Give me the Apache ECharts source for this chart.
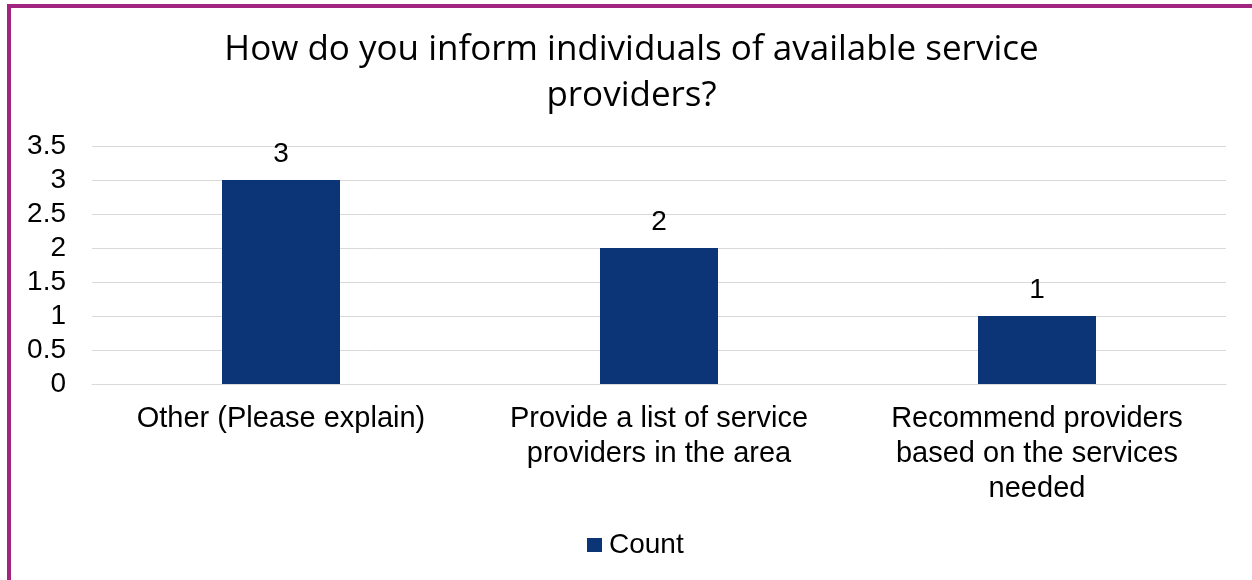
<!DOCTYPE html>
<html>
<head>
<meta charset="utf-8">
<script src="https://cdn.jsdelivr.net/npm/echarts@6/dist/echarts.min.js"></script>
<style>
  html, body { margin: 0; padding: 0; background: #ffffff; overflow: hidden; }
  body { width: 1252px; height: 580px; position: relative; }
  /* magenta frame around the chart (only its top and left edges fall inside the view) */
  #frame {
    position: absolute; left: 7px; top: 4px; width: 1400px; height: 800px;
    border-left: 4px solid #A2267F; border-top: 4px solid #A2267F;
    box-sizing: border-box;
  }
  #chart { position: absolute; left: 11px; top: 8px; width: 1241px; height: 572px; }
</style>
</head>
<body>
<div id="frame"></div>
<div id="chart"></div>
<script>
// Survey responses: how individuals are told about service providers
const categories = [
  'Other (Please explain)',
  'Provide a list of service\nproviders in the area',
  'Recommend providers\nbased on the services\nneeded'
];
const counts = [3, 2, 1];
const seriesName = 'Count';
const titleText = 'How do you inform individuals of available service\nproviders?';

const axisFont = 'Liberation Sans, Arial, sans-serif';

const chart = echarts.init(document.getElementById('chart'), null, { renderer: 'canvas' });
chart.setOption({
  animation: false,
  title: {
    text: titleText,
    left: 'center',
    top: 14,
    textStyle: {
      fontFamily: 'Open Sans, sans-serif',
      fontWeight: 'normal',
      fontSize: 35,
      lineHeight: 46,
      color: '#000000'
    }
  },
  grid: { left: 81, right: 26, top: 138, bottom: 196, containLabel: false },
  legend: {
    data: [seriesName],
    left: 576,
    top: 523,
    padding: 0,
    itemWidth: 15,
    itemHeight: 14,
    icon: 'rect',
    textStyle: { fontFamily: axisFont, fontSize: 28, lineHeight: 28, color: '#000000', padding: [0, 0, 0, 2] }
  },
  xAxis: {
    type: 'category',
    data: categories,
    axisLine: { show: true, lineStyle: { color: '#D9D9D9', width: 1 } },
    axisTick: { show: false },
    axisLabel: {
      interval: 0,
      margin: 17,
      fontFamily: axisFont,
      fontSize: 29,
      lineHeight: 35,
      color: '#000000'
    }
  },
  yAxis: {
    type: 'value',
    min: 0,
    max: 3.5,
    interval: 0.5,
    axisLine: { show: false },
    axisTick: { show: false },
    splitLine: { lineStyle: { color: '#D9D9D9', width: 1 } },
    axisLabel: {
      margin: 26,
      fontFamily: axisFont,
      fontSize: 28,
      color: '#000000'
    }
  },
  series: [{
    name: seriesName,
    type: 'bar',
    data: counts,
    barWidth: 118,
    itemStyle: { color: '#0C3577' },
    label: {
      show: true,
      position: 'top',
      distance: 12,
      fontFamily: axisFont,
      fontSize: 28,
      color: '#000000'
    }
  }]
});
</script>
</body>
</html>
